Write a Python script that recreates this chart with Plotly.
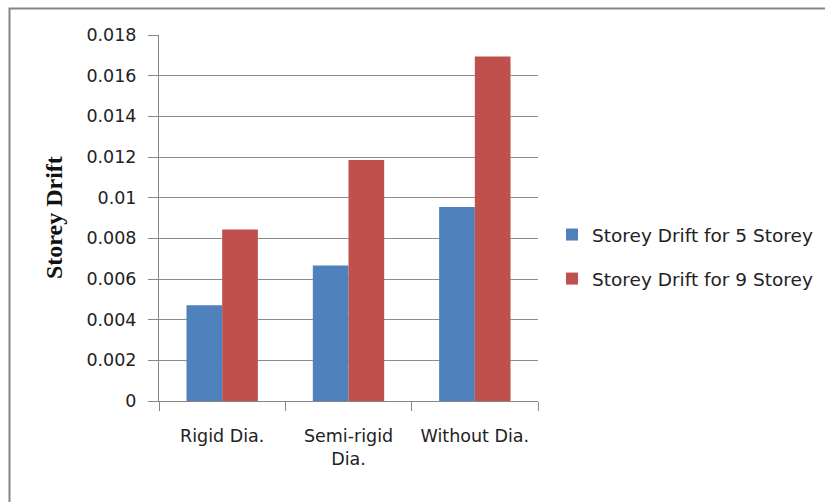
import plotly.graph_objects as go

categories = ["Rigid Dia.", "Semi-rigid<br>Dia.", "Without Dia."]
drift_5 = [0.00471, 0.00666, 0.00954]
drift_9 = [0.00843, 0.01185, 0.01694]
series_names = ["Storey Drift for 5 Storey", "Storey Drift for 9 Storey"]
tick_vals = [0, 0.002, 0.004, 0.006, 0.008, 0.01, 0.012, 0.014, 0.016, 0.018]
tick_text = ["0", "0.002", "0.004", "0.006", "0.008", "0.01", "0.012", "0.014", "0.016", "0.018"]

L, R, T, B = 159, 287, 35, 101
W, H = 825, 502
pw, ph = W - L - R, H - T - B

def px_x(p):
    return (p - L) / pw

def px_y(p):
    return (H - B - p) / ph

font_main = "DejaVu Sans, sans-serif"
txt = "#222222"

fig = go.Figure()
fig.add_trace(go.Bar(x=categories, y=drift_5, name=series_names[0],
                     marker=dict(color="#4F81BD", line=dict(width=0)), legendgroup="a"))
fig.add_trace(go.Bar(x=categories, y=drift_9, name=series_names[1],
                     marker=dict(color="#C0504D", line=dict(width=0)), legendgroup="b"))

fig.update_layout(
    width=W, height=H,
    margin=dict(l=L, r=R, t=T, b=B, autoexpand=False),
    paper_bgcolor="white", plot_bgcolor="white",
    barmode="group", bargap=0.435, bargroupgap=0,
    font=dict(family=font_main, size=17.5, color=txt),
    showlegend=True,
    legend=dict(x=px_x(552), y=px_y(216), xanchor="left", yanchor="top",
                traceorder="grouped", tracegroupgap=17,
                font=dict(size=18.5, family=font_main, color=txt),
                itemwidth=30, bgcolor="rgba(0,0,0,0)"),
    xaxis=dict(showline=True, linecolor="#868686", linewidth=1,
               ticks="outside", tickson="boundaries", ticklen=9, tickcolor="#868686",
               ticklabelstandoff=19, automargin=False,
               tickfont=dict(size=17.5, color=txt), showgrid=False),
    yaxis=dict(range=[0, 0.018], tickvals=tick_vals, ticktext=tick_text,
               showline=True, linecolor="#868686", linewidth=1,
               ticks="outside", ticklen=10, tickcolor="#868686",
               ticklabelstandoff=8, automargin=False,
               showgrid=True, gridcolor="#8c8c8c", gridwidth=1,
               zeroline=False, tickfont=dict(size=17.5, color=txt)),
    annotations=[dict(text="<b>Storey Drift</b>", textangle=-90,
                      x=px_x(53.5), y=px_y(217.5), xref="paper", yref="paper",
                      xanchor="center", yanchor="middle",
                      showarrow=False, font=dict(family="Liberation Serif", size=24, color="#111"))],
    shapes=[dict(type="rect", xref="paper", yref="paper",
                 x0=px_x(9.5), x1=px_x(840), y0=px_y(520), y1=px_y(8.5),
                 line=dict(color="#858585", width=2), fillcolor="rgba(0,0,0,0)", layer="below")],
)

fig.write_html("out.html")
